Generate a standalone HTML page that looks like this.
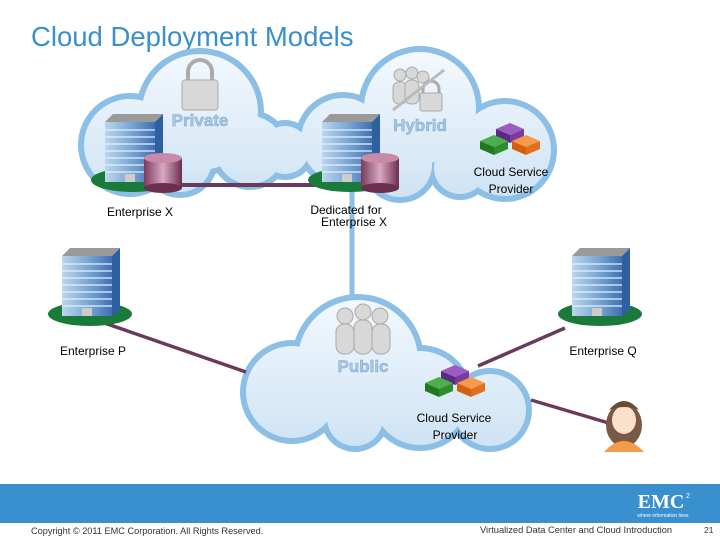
<!DOCTYPE html>
<html><head><style>
body{margin:0;width:720px;height:540px;overflow:hidden;background:#fff;font-family:"Liberation Sans",sans-serif;}
svg{position:absolute;left:0;top:0}
</style></head><body>
<svg width="720" height="540" viewBox="0 0 720 540">
<defs>
<linearGradient id="cg1" gradientUnits="userSpaceOnUse" x1="0" y1="50" x2="0" y2="205"><stop offset="0" stop-color="#f4f9fe"/><stop offset="1" stop-color="#cde2f4"/></linearGradient>
<linearGradient id="cg2" gradientUnits="userSpaceOnUse" x1="0" y1="295" x2="0" y2="455"><stop offset="0" stop-color="#f4f9fe"/><stop offset="1" stop-color="#cde2f4"/></linearGradient>
<linearGradient id="bg" x1="0" y1="0" x2="1" y2="0"><stop offset="0" stop-color="#bcd6ee"/><stop offset="0.6" stop-color="#6f9fd0"/><stop offset="1" stop-color="#3f6fb0"/></linearGradient>
<linearGradient id="dg" x1="0" y1="0" x2="1" y2="0"><stop offset="0" stop-color="#7a3a5c"/><stop offset="0.5" stop-color="#d9a8c0"/><stop offset="1" stop-color="#6a2e4e"/></linearGradient>
<g id="bld">
<ellipse cx="0" cy="52" rx="42" ry="12" fill="#1a7a3a"/>
<polygon points="-28,-6 -20,-14 30,-14 22,-6" fill="#9a9a9a"/>
<rect x="-28" y="-6" width="50" height="60" fill="url(#bg)"/>
<polygon points="22,-6 30,-14 30,48 22,54" fill="#2f5fa0"/>
<g stroke="#e6f0fa" stroke-width="1.2">
<line x1="-28" y1="2" x2="22" y2="2"/><line x1="-28" y1="9" x2="22" y2="9"/><line x1="-28" y1="16" x2="22" y2="16"/><line x1="-28" y1="23" x2="22" y2="23"/><line x1="-28" y1="30" x2="22" y2="30"/><line x1="-28" y1="37" x2="22" y2="37"/><line x1="-28" y1="44" x2="22" y2="44"/></g>
<rect x="-8" y="46" width="10" height="8" fill="#ccc"/>
</g>
<g id="db">
<rect x="-19" y="-14" width="38" height="30" fill="url(#dg)"/>
<ellipse cx="0" cy="16" rx="19" ry="5" fill="#6a2e4e"/>
<ellipse cx="0" cy="-14" rx="19" ry="5" fill="#c98aa8"/>
</g>
<g id="csp">
<polygon points="-14,-14 0,-20 14,-14 0,-8" fill="#9a5cc0"/><polygon points="-14,-14 0,-8 0,0 -14,-6" fill="#5a2a80"/><polygon points="14,-14 0,-8 0,0 14,-6" fill="#7a3aa0"/>
<polygon points="-30,-2 -16,-8 -2,-2 -16,4" fill="#4cae4c"/><polygon points="-30,-2 -16,4 -16,12 -30,6" fill="#1e7a1e"/><polygon points="-2,-2 -16,4 -16,12 -2,6" fill="#2e8e2e"/>
<polygon points="2,-2 16,-8 30,-2 16,4" fill="#f59a4a"/><polygon points="2,-2 16,4 16,12 2,6" fill="#d06010"/><polygon points="30,-2 16,4 16,12 30,6" fill="#e07020"/>
</g>
</defs>
<text x="31" y="46" font-size="27.5" fill="#3a8fcf">Cloud Deployment Models</text>

<g fill="#8cbfe6">
<circle cx="200" cy="112" r="64"/><circle cx="130" cy="145" r="52"/><circle cx="180" cy="160" r="38"/><circle cx="250" cy="150" r="40"/><circle cx="285" cy="150" r="30"/>
<circle cx="420" cy="108" r="62"/><circle cx="343" cy="140" r="48"/><circle cx="505" cy="150" r="52"/><circle cx="400" cy="165" r="38"/><circle cx="460" cy="168" r="32"/>
<circle cx="358" cy="360" r="66"/><circle cx="292" cy="392" r="52"/><circle cx="420" cy="398" r="53"/><circle cx="490" cy="410" r="42"/><circle cx="355" cy="418" r="34"/>
</g>
<g fill="url(#cg1)">
<circle cx="200" cy="112" r="58"/><circle cx="130" cy="145" r="46"/><circle cx="180" cy="160" r="32"/><circle cx="250" cy="150" r="34"/><circle cx="285" cy="150" r="24"/>
<circle cx="343" cy="140" r="42"/><circle cx="420" cy="108" r="56"/><circle cx="505" cy="150" r="46"/><circle cx="400" cy="165" r="32"/><circle cx="460" cy="168" r="26"/>
</g>
<g fill="url(#cg2)">
<circle cx="358" cy="360" r="60"/><circle cx="292" cy="392" r="46"/><circle cx="420" cy="398" r="47"/><circle cx="490" cy="410" r="36"/><circle cx="355" cy="418" r="28"/>
</g>

<line x1="352" y1="190" x2="352" y2="298" stroke="#8cbfe6" stroke-width="5"/>
<line x1="165" y1="185" x2="378" y2="185" stroke="#6b3a5a" stroke-width="4"/>
<line x1="90" y1="318" x2="246" y2="372" stroke="#6b3a5a" stroke-width="3.5"/>
<line x1="565" y1="328" x2="478" y2="366" stroke="#6b3a5a" stroke-width="3.5"/>
<line x1="531" y1="400" x2="612" y2="424" stroke="#6b3a5a" stroke-width="3.5"/>

<g fill="#d8d8d8" stroke="#aaa">
<path d="M188,82 v-10 a12,12 0 0 1 24,0 v10" fill="none" stroke="#aaa" stroke-width="4"/>
<rect x="182" y="80" width="36" height="30" rx="3"/>
</g>
<g fill="#d8d8d8" stroke="#aaa">
<circle cx="400" cy="75" r="6"/><circle cx="412" cy="73" r="6"/><circle cx="423" cy="77" r="6"/>
<rect x="393" y="82" width="14" height="22" rx="6"/><rect x="405" y="80" width="14" height="24" rx="6"/>
<path d="M423,95 v-6 a8,8 0 0 1 16,0 v6" fill="none" stroke-width="3"/>
<rect x="420" y="93" width="22" height="18" rx="2"/>
</g>
<line x1="393" y1="110" x2="444" y2="70" stroke="#bbb" stroke-width="3"/>
<g fill="#d8d8d8" stroke="#aaa">
<circle cx="345" cy="316" r="8"/><circle cx="363" cy="312" r="8"/><circle cx="380" cy="316" r="8"/>
<rect x="336" y="324" width="18" height="30" rx="8"/><rect x="372" y="324" width="18" height="30" rx="8"/><rect x="354" y="320" width="18" height="34" rx="8"/>
</g>
<text x="200" y="126" font-size="17" font-weight="bold" fill="#a9c6e2" stroke="#7ea6cc" stroke-width="0.5" text-anchor="middle">Private</text>
<text x="420" y="131" font-size="17" font-weight="bold" fill="#a9c6e2" stroke="#7ea6cc" stroke-width="0.5" text-anchor="middle">Hybrid</text>
<text x="363" y="372" font-size="17" font-weight="bold" fill="#a9c6e2" stroke="#7ea6cc" stroke-width="0.5" text-anchor="middle">Public</text>

<use href="#bld" x="133" y="128"/>
<use href="#db" x="163" y="172"/>
<use href="#bld" x="350" y="128"/>
<use href="#db" x="380" y="172"/>
<use href="#bld" x="90" y="262"/>
<use href="#bld" x="600" y="262"/>
<use href="#csp" x="510" y="143"/>
<use href="#csp" x="455" y="385"/>

<ellipse cx="624" cy="425" rx="18" ry="22" fill="#7a5a44"/>
<ellipse cx="624" cy="420" rx="12" ry="14" fill="#fbe0cc"/>
<path d="M604,452 q20,-22 40,0 z" fill="#f59a4a"/>
<path d="M609,410 q15,-18 30,0 q-15,-6 -30,0z" fill="#6a4a36"/>

<g font-size="12" fill="#000" text-anchor="middle">
<text x="140" y="216">Enterprise X</text>
<text x="346" y="214">Dedicated for</text>
<text x="354" y="226">Enterprise X</text>
<text x="511" y="176">Cloud Service</text>
<text x="511" y="193">Provider</text>
<text x="93" y="355">Enterprise P</text>
<text x="603" y="355">Enterprise Q</text>
<text x="454" y="422">Cloud Service</text>
<text x="455" y="439">Provider</text>
</g>

<rect x="0" y="484" width="720" height="39" fill="#3a8fcf"/>
<text x="661" y="508" font-size="20" font-family="Liberation Serif" font-weight="bold" fill="#fff" text-anchor="middle">EMC</text>
<text x="686" y="498" font-size="7" fill="#fff">2</text>
<text x="663" y="517" font-size="5" fill="#fff" text-anchor="middle">where information lives</text>
<g fill="#333">
<text x="31" y="534" font-size="9.2">Copyright © 2011 EMC Corporation. All Rights Reserved.</text>
<text x="480" y="533" font-size="9.3">Virtualized Data Center and Cloud Introduction</text>
<text x="704" y="533" font-size="8.5">21</text>
</g>
</svg>
</body></html>
